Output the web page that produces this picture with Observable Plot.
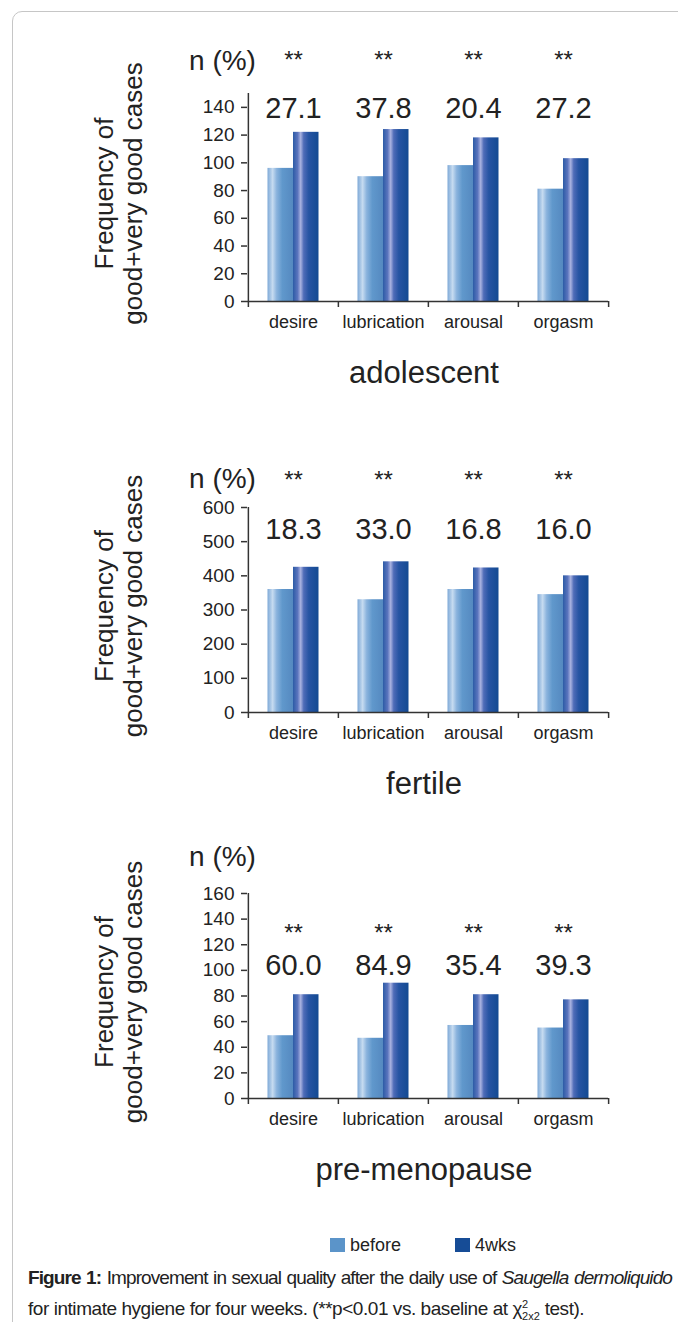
<!DOCTYPE html>
<html>
<head>
<meta charset="utf-8">
<script src="https://cdn.jsdelivr.net/npm/d3@7"></script>
<script src="https://cdn.jsdelivr.net/npm/@observablehq/plot@0.6"></script>
<style>
  html, body { margin: 0; padding: 0; background: #fff; width: 678px; height: 1322px; overflow: hidden;
    font-family: "Liberation Sans", Arial, Helvetica, sans-serif; color: #222; }
  #box { position: absolute; left: 12px; top: 11px; width: 720px; height: 1400px;
    border: 1.5px solid #c6c6c6; border-radius: 10px; pointer-events: none; z-index: 5; }
  #charts { position: absolute; left: 0; top: 0; width: 678px; }
  #charts svg { display: block; }
  #legend { position: absolute; left: 0; top: 1232px; width: 678px; height: 26px; font-size: 18px; }
  .sw { position: absolute; top: 6px; width: 15px; height: 14px; }
  .lt { position: absolute; top: 1px; line-height: 24px; }
  .cap { position: absolute; left: 28px; font-size: 19px; line-height: 27px; white-space: nowrap; }
  #cap1 { top: 1264px; width: 644px; letter-spacing: -0.9px; text-align: justify; text-align-last: justify; }
  #cap2 { top: 1291px; letter-spacing: -0.45px; }
  .cap sup, .cap sub { font-size: 11px; letter-spacing: 0; }
</style>
</head>
<body>
<svg width="0" height="0" style="position:absolute">
  <defs>
    <linearGradient id="gBefore" x1="0" y1="0" x2="1" y2="0">
      <stop offset="0" stop-color="#7ea9d7"/>
      <stop offset="0.2" stop-color="#c6dbf0"/>
      <stop offset="0.36" stop-color="#8ab3dd"/>
      <stop offset="0.58" stop-color="#6098cc"/>
      <stop offset="1" stop-color="#5589c0"/>
    </linearGradient>
    <linearGradient id="gAfter" x1="0" y1="0" x2="1" y2="0">
      <stop offset="0" stop-color="#2c5ba6"/>
      <stop offset="0.18" stop-color="#5a74bd"/>
      <stop offset="0.3" stop-color="#a9b2e0"/>
      <stop offset="0.42" stop-color="#4f6cb8"/>
      <stop offset="0.62" stop-color="#2654a3"/>
      <stop offset="1" stop-color="#134a92"/>
    </linearGradient>
  </defs>
</svg>
<div id="charts"></div>
<div id="legend">
  <div class="sw" style="left:330px;background:#5b94c9"></div><div class="lt" style="left:350px">before</div>
  <div class="sw" style="left:455px;background:#164c96"></div><div class="lt" style="left:475px">4wks</div>
</div>
<div class="cap" id="cap1"><b>Figure 1:</b> Improvement in sexual quality after the daily use of <i>Saugella dermoliquido</i></div>
<div class="cap" id="cap2">for intimate hygiene for four weeks. (**p&lt;0.01 vs. baseline at χ<sup>2</sup><sub style="margin-left:-6px">2x2</sub> test).</div>
<div id="box"></div>
<script>
// ---- data ----
const categories = ["desire", "lubrication", "arousal", "orgasm"];
const seriesNames = ["before", "4wks"];
const significance = ["**", "**", "**", "**"];
const yTitle = "Frequency of\ngood+very good cases";
const unitLabel = "n (%)";

const adolescentBefore = [96, 90, 98, 81];
const adolescentAfter  = [122, 124, 118, 103];
const adolescentPct    = ["27.1", "37.8", "20.4", "27.2"];
const adolescentTicks  = [0, 20, 40, 60, 80, 100, 120, 140];

const fertileBefore = [360, 330, 360, 345];
const fertileAfter  = [425, 441, 423, 400];
const fertilePct    = ["18.3", "33.0", "16.8", "16.0"];
const fertileTicks  = [0, 100, 200, 300, 400, 500, 600];

const premenoBefore = [49, 47, 57, 55];
const premenoAfter  = [81, 90, 81, 77];
const premenoPct    = ["60.0", "84.9", "35.4", "39.3"];
const premenoTicks  = [0, 20, 40, 60, 80, 100, 120, 140, 160];

const groupTitles = ["adolescent", "fertile", "pre-menopause"];

// ---- layout ----
const W = 678, ML = 247, MR = 70;
const bw = (W - ML - MR) / categories.length;
const ink = "#222";
const axisInk = "#333";

const panels = [
  {title: groupTitles[0], before: adolescentBefore, after: adolescentAfter, pct: adolescentPct, ticks: adolescentTicks,
   yMax: 150, height: 420, mt: 93, mb: 119, labelY: 139, starY: 174, unitDy: -32},
  {title: groupTitles[1], before: fertileBefore, after: fertileAfter, pct: fertilePct, ticks: fertileTicks,
   yMax: 600, height: 420, mt: 87, mb: 128, labelY: 536, starY: 680, unitDy: -28},
  {title: groupTitles[2], before: premenoBefore, after: premenoAfter, pct: premenoPct, ticks: premenoTicks,
   yMax: 160, height: 370, mt: 53, mb: 112, labelY: 103.5, starY: 129, unitDy: -36}
];

const host = document.getElementById("charts");
for (const p of panels) {
  const rows = categories.map((c, i) => ({cat: c, before: p.before[i], after: p.after[i], pct: p.pct[i], star: significance[i]}));
  const chart = Plot.plot({
    width: W, height: p.height,
    marginLeft: ML, marginRight: MR, marginTop: p.mt, marginBottom: p.mb,
    style: {background: "transparent", overflow: "visible", color: ink,
            fontFamily: "'Liberation Sans', Arial, Helvetica, sans-serif"},
    x: {domain: categories, padding: 0, axis: null},
    y: {domain: [0, p.yMax], axis: null},
    marks: [
      Plot.barY(rows, {x: "cat", y: "before", fill: "url(#gBefore)", insetLeft: 19.5, insetRight: 45}),
      Plot.barY(rows, {x: "cat", y: "after", fill: "url(#gAfter)", insetLeft: 45, insetRight: 19.5}),
      Plot.axisY({ticks: p.ticks, tickSize: 6, tickPadding: 7, fontSize: 19, label: null,
                  stroke: axisInk, strokeWidth: 1.5}),
      Plot.axisX({tickSize: 0, tickPadding: 14, fontSize: 18, label: null}),
      Plot.ruleY([0], {stroke: axisInk, strokeWidth: 1.5}),
      // y axis line (left edge of first band) extended into a tick below zero
      Plot.ruleX([categories[0]], {dx: -bw / 2, insetBottom: -6, stroke: axisInk, strokeWidth: 1.5}),
      // category boundary ticks
      Plot.ruleX(categories.slice(1), {dx: -bw / 2, y1: 0, y2: 0, insetBottom: -6, stroke: axisInk, strokeWidth: 1.5}),
      Plot.ruleX([categories[categories.length - 1]], {dx: bw / 2, y1: 0, y2: 0, insetBottom: -6, stroke: axisInk, strokeWidth: 1.5}),
      Plot.text(rows, {x: "cat", y: () => p.labelY, text: "pct", fontSize: 29, fill: ink}),
      Plot.text(rows, {x: "cat", y: () => p.starY, text: "star", fontSize: 24, fill: ink}),
      Plot.text([unitLabel], {frameAnchor: "top-left", lineAnchor: "middle", dx: -25, dy: p.unitDy, fontSize: 28,
                              textAnchor: "middle", fill: ink}),
      Plot.text([yTitle], {frameAnchor: "left", lineAnchor: "middle", dx: -129, dy: -4, rotate: -90, fontSize: 26,
                           lineHeight: 1.1, textAnchor: "middle", fill: ink, letterSpacing: "0.3px"}),
      Plot.text([p.title], {frameAnchor: "bottom", lineAnchor: "middle", dx: -4, dy: 72, fontSize: 31, fill: ink})
    ]
  });
  host.appendChild(chart);
}
</script>
</body>
</html>
